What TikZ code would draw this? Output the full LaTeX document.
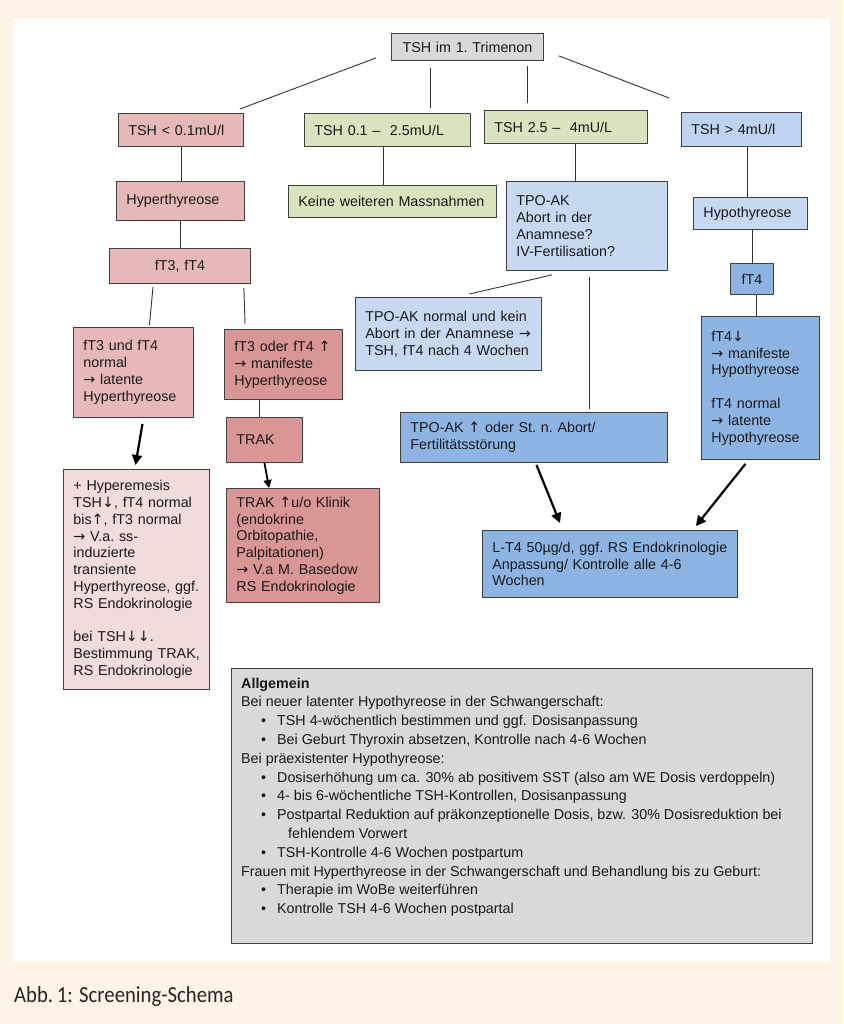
\documentclass[tikz,border=0pt]{standalone}
\usepackage{fontspec}
\setmainfont{Liberation Sans}
\newfontfamily\capfont[FakeStretch=0.9]{Carlito}
\newfontfamily\symfont{DejaVu Sans}
\usepackage{tikz}
\usetikzlibrary{arrows.meta}
\usetikzlibrary{positioning,calc}

\definecolor{cream}{RGB}{253,243,231}
\definecolor{greybox}{RGB}{217,217,217}
\definecolor{pinkmid}{RGB}{230,185,184}
\definecolor{pinkdark}{RGB}{217,150,148}
\definecolor{pinklight}{RGB}{242,220,219}
\definecolor{greenbox}{RGB}{215,228,189}
\definecolor{bluelight}{RGB}{198,217,241}
\definecolor{bluemid}{RGB}{142,180,227}

\newcommand{\ra}{{\symfont →}\ }
\newcommand{\up}{{\symfont ↑}}
\newcommand{\dn}{{\symfont ↓}}
\newcommand{\bul}{\hspace*{20pt}\makebox[16pt][l]{\textbullet}}

\tikzset{
    box/.style={
        draw=black!75,
        line width=0.9pt,
        anchor=north west,
        align=left,
        inner xsep=10pt,
        inner ysep=0pt,
        text=black!90,
        font=\fontsize{14.3}{16.8}\selectfont
    },
    link/.style={draw=black!80, line width=0.9pt},
    flow/.style={draw=black, line width=2.2pt, -{Triangle[length=10pt, width=10pt]}}
}

\begin{document}
\begin{tikzpicture}[x=1pt, y=-1pt]
  \useasboundingbox (0,0) rectangle (843,1024);
  \fill[cream] (0,0) rectangle (843,1024);
  \fill[white] (13,18) rectangle (830,962);

  % start and TSH ranges
  \node[box, fill=greybox, align=center, inner xsep=4pt, minimum width=152pt, minimum height=27pt, text width=144pt] (top) at (391,33) {TSH~im~1.~Trimenon};
  \node[box, fill=pinkmid, minimum width=125pt, minimum height=33pt, text width=105pt] (tsh1) at (118,113) {TSH < 0.1mU/l};
  \node[box, fill=greenbox, minimum width=166pt, minimum height=33pt, text width=146pt] (tsh2) at (304,113) {TSH 0.1 –~ 2.5mU/L};
  \node[box, fill=greenbox, minimum width=163pt, minimum height=33pt, text width=143pt] (tsh3) at (484,110) {TSH 2.5 –~ 4mU/L};
  \node[box, fill=bluelight!85!bluemid, minimum width=120pt, minimum height=34pt, text width=100pt] (tsh4) at (681,112) {TSH > 4mU/l};

  % hyperthyreose branch
  \node[box, fill=pinkmid, minimum width=128pt, minimum height=39pt, text width=108pt] (hyper) at (116,181) {Hyperthyreose};
  \node[box, fill=pinkmid, align=center, minimum width=141pt, minimum height=35pt, text width=121pt] (ft) at (109,248) {fT3, fT4};
  \node[box, fill=pinkmid, minimum width=120pt, minimum height=90pt, text width=100pt] (latent) at (73,327)
    {fT3 und fT4\\normal\\\ra latente\\Hyperthyreose};
  \node[box, fill=pinkdark, minimum width=118pt, minimum height=70pt, text width=98pt] (manifest) at (224,329)
    {fT3 oder fT4 \up\\\ra manifeste\\Hyperthyreose};
  \node[box, fill=pinkdark, minimum width=76pt, minimum height=45pt, text width=56pt] (trak) at (226,417) {TRAK};
  \node[box, fill=pinklight, minimum width=146pt, minimum height=220pt, text width=126pt] (emesis) at (63,469)
    {+ Hyperemesis\\TSH\dn,~fT4~normal\\bis\up,~fT3~normal\\\ra V.a.~ss-\\induzierte\\transiente\\Hyperthyreose,~ggf.\\RS~Endokrinologie\\[16.8pt]bei TSH\dn\dn.\\Bestimmung~TRAK,\\RS~Endokrinologie};
  \node[box, fill=pinkdark, minimum width=153pt, minimum height=114pt, text width=133pt] (basedow) at (226,488)
    {TRAK~\up u/o~Klinik\\(endokrine\\Orbitopathie,\\Palpitationen)\\\ra V.a~M.~Basedow\\RS~Endokrinologie};

  % normal range
  \node[box, fill=greenbox, minimum width=208pt, minimum height=32pt, text width=188pt] (keine) at (288,185) {Keine~weiteren~Massnahmen};

  % TPO-AK branch
  \node[box, fill=bluelight, minimum width=161pt, minimum height=89pt, text width=141pt] (tpo) at (506,181)
    {TPO-AK\\Abort in der\\Anamnese?\\IV-Fertilisation?};
  \node[box, fill=bluelight, minimum width=186pt, minimum height=73pt, text width=166pt] (tponormal) at (355,297)
    {TPO-AK~normal~und~kein\\Abort~in~der~Anamnese~\ra\\TSH,~fT4~nach~4~Wochen};
  \node[box, fill=bluemid, minimum width=267pt, minimum height=50pt, text width=247pt] (tpohigh) at (400,412)
    {TPO-AK~\up~oder~St.~n.~Abort/\\Fertilitätsstörung};

  % hypothyreose branch
  \node[box, fill=bluelight, minimum width=114pt, minimum height=32pt, text width=94pt] (hypo) at (693,197) {Hypothyreose};
  \node[box, fill=bluemid, align=center, inner xsep=4pt, minimum width=43pt, minimum height=31pt, text width=35pt] (ft4) at (730,263) {fT4};
  \node[box, fill=bluemid, minimum width=118pt, minimum height=143pt, text width=98pt] (ft4low) at (701,316)
    {fT4\dn\\\ra manifeste\\Hypothyreose\\[16.8pt]fT4 normal\\\ra latente\\Hypothyreose};
  \node[box, fill=bluemid, minimum width=255pt, minimum height=67pt, text width=235pt] (lt4) at (482,530)
    {L-T4~50µg/d,~ggf.~RS~Endokrinologie\\Anpassung/ Kontrolle alle 4-6\\Wochen};

  % connectors
  \draw[link] ([xshift=-15pt,yshift=3pt]top.south west) -- ([xshift=-4pt,yshift=4pt]tsh1.north east);
  \draw[link, shorten <=7pt, shorten >=5pt] ([xshift=-37pt]top.south) -- ([xshift=-37pt]top.south |- tsh2.north);
  \draw[link, shorten <=5pt, shorten >=7pt] ([xshift=60pt]top.south) -- ([xshift=60pt]top.south |- tsh3.north);
  \draw[link] ([xshift=15pt,yshift=5pt]top.south east) -- ([xshift=-12pt,yshift=14pt]tsh4.north west);
  \draw[link] (tsh1.south) -- (tsh1.south |- hyper.north);
  \draw[link] ([xshift=-4pt]tsh2.south) -- ([xshift=-4pt]tsh2.south |- keine.north);
  \draw[link] ([xshift=9pt]tsh3.south) -- ([xshift=9pt]tsh3.south |- tpo.north);
  \draw[link] ([xshift=6pt]tsh4.south) -- ([xshift=6pt]tsh4.south |- hypo.north);
  \draw[link] (hyper.south) -- (hyper.south |- ft.north);
  \draw[link] ([xshift=44pt,yshift=-3pt]ft.south west) -- ([xshift=16pt,yshift=2pt]latent.north);
  \draw[link] ([xshift=-7pt,yshift=-4pt]ft.south east) -- ([xshift=21pt,yshift=5pt]manifest.north west);
  \draw[link] ([xshift=-5pt]trak.north) -- ([xshift=-5pt]trak.north |- manifest.south);
  \draw[link] ([xshift=-35pt,yshift=-4pt]tpo.south) -- ([xshift=21pt,yshift=3pt]tponormal.north);
  \draw[link, shorten <=6pt, shorten >=3pt] ([xshift=2.5pt]tpo.south) -- ([xshift=2.5pt]tpo.south |- tpohigh.north);
  \draw[link] ([xshift=2pt]hypo.south) -- ([xshift=2pt]hypo.south |- ft4.north);
  \draw[link] ([xshift=4.5pt]ft4.south) -- ([xshift=4.5pt]ft4.south |- ft4low.north);

  % arrows
  \draw[flow] ([xshift=9pt,yshift=-6pt]latent.south) -- ([xshift=-1pt,yshift=4pt]emesis.north);
  \draw[flow, line width=1.8pt, -{Triangle[length=8pt, width=8pt]}] (trak.south) -- ([xshift=43pt]basedow.north west);
  \draw[flow] ([xshift=2.5pt,yshift=-2pt]tpohigh.south) -- ([xshift=78pt,yshift=7pt]lt4.north west);
  \draw[flow] ([xshift=-15pt,yshift=-4pt]ft4low.south) -- ([xshift=-42pt,yshift=4pt]lt4.north east);

  % general notes
  \node[box, fill=greybox, minimum width=581pt, minimum height=275pt, text width=561pt] (general) at (231,668) {};
  \node[anchor=north west, align=left, inner sep=0pt, text=black!90, font=\fontsize{14.3}{18.8}\selectfont]
    (generaltext) at ([xshift=10pt,yshift=-9.5pt]general.north west)
    {\textbf{Allgemein}\\
     Bei neuer latenter Hypothyreose in der Schwangerschaft:\\
     \bul TSH 4-wöchentlich bestimmen und ggf. Dosisanpassung\\
     \bul Bei Geburt Thyroxin absetzen, Kontrolle nach 4-6 Wochen\\
     Bei präexistenter Hypothyreose:\\
     \bul Dosiserhöhung um ca. 30\% ab positivem SST (also am WE Dosis verdoppeln)\\
     \bul 4- bis 6-wöchentliche TSH-Kontrollen, Dosisanpassung\\
     \bul Postpartal Reduktion auf präkonzeptionelle Dosis, bzw. 30\% Dosisreduktion bei\\
     \hspace*{47pt}fehlendem Vorwert\\
     \bul TSH-Kontrolle 4-6 Wochen postpartum\\
     Frauen mit Hyperthyreose in der Schwangerschaft und Behandlung bis zu Geburt:\\
     \bul Therapie im WoBe weiterführen\\
     \bul Kontrolle TSH 4-6 Wochen postpartal};

  \node[anchor=base west, inner sep=0pt, text=black!85, font=\capfont\fontsize{23}{28}\selectfont] (caption) at (14,1002) {Abb.\,1: Screening-Schema};
\end{tikzpicture}
\end{document}
